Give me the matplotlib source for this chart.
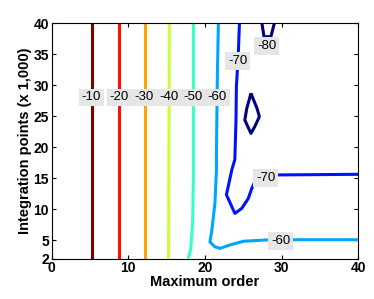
import matplotlib
matplotlib.use("Agg")
import matplotlib.pyplot as plt
from matplotlib import colors

plt.rcParams['font.family'] = ['Liberation Sans', 'DejaVu Sans']

levels = [-10, -20, -30, -40, -50, -60, -70, -80]

# contour paths, one list of segments per level
c10 = [([5.25, 5.25], [2, 40])]
c20 = [([8.82, 8.82], [2, 40])]
c30 = [([12.12, 12.12], [2, 40])]
c40 = [([15.35, 15.3, 15.25], [40, 20, 2])]
c50 = [([18.5, 18.5, 18.4, 18.15, 17.8], [40, 16, 8, 3.5, 2])]
c60 = [([21.75, 21.6, 21.5, 21.5, 21.3, 20.9, 20.65, 21.3, 21.96, 23.25, 25.0, 28.5, 40],
        [40, 30, 19, 16.3, 10.9, 6.6, 4.7, 3.9, 3.66, 4.2, 4.8, 5.05, 5.05])]
c70 = [([24.5, 24.35, 24.1, 24.05, 23.9, 23.5, 22.8, 23.9, 24.8, 25.65, 26.1, 26.8, 29.5, 40],
        [40, 35, 29.7, 24.4, 18, 16.3, 12.3, 9.3, 10.1, 11.7, 13.3, 15.2, 15.5, 15.6])]
c80 = [([27.4, 27.7, 28.6, 29.1], [40.2, 37.8, 37.8, 40.2]),
       ([26.0, 25.45, 25.2, 26.0, 26.5, 27.1, 26.8, 26.0],
        [28.65, 26.2, 24.35, 22.2, 23.3, 24.9, 26.2, 28.65])]
paths = [c10, c20, c30, c40, c50, c60, c70, c80]

label_x = [5.2, 8.8, 12.1, 15.3, 18.5, 21.6, 24.3, 28.05, 27.95, 29.9]
label_y = [28, 28, 28, 28, 28, 28, 33.9, 36.3, 15.0, 4.85]
label_txt = ['-10', '-20', '-30', '-40', '-50', '-60', '-70', '-80', '-70', '-60']

x_ticks = [0, 10, 20, 30, 40]
y_ticks = [2, 5, 10, 15, 20, 25, 30, 35, 40]

# matlab style jet
jet = colors.LinearSegmentedColormap('mjet', {
    'red':   [(0, 0, 0), (0.375, 0, 0), (0.625, 1, 1), (0.875, 1, 1), (1, 0.5, 0.5)],
    'green': [(0, 0, 0), (0.125, 0, 0), (0.375, 1, 1), (0.625, 1, 1), (0.875, 0, 0), (1, 0, 0)],
    'blue':  [(0, 0.5, 0.5), (0.125, 1, 1), (0.375, 1, 1), (0.625, 0, 0), (1, 0, 0)],
})

fig = plt.figure(figsize=(3.74, 2.99), dpi=100)
ax = fig.add_axes([0.138, 0.135, 0.82, 0.788])

norm = colors.Normalize(vmin=-80, vmax=-10)
for lev, segs in zip(levels, paths):
    for xs, ys in segs:
        ax.plot(xs, ys, color=jet(norm(lev)), lw=2.2, solid_capstyle='butt', zorder=2)

for x, y, t in zip(label_x, label_y, label_txt):
    ax.text(x, y, t, ha='center', va='center', fontsize=9.5, zorder=3,
            bbox=dict(boxstyle='square,pad=0.22', fc='#e6e6e6', ec='none'))

ax.set_xlim(0, 40)
ax.set_ylim(2, 40)
ax.set_xticks(x_ticks)
ax.set_yticks(y_ticks)
ax.tick_params(direction='in', top=True, right=True, length=3, width=0.8,
               labelsize=10, pad=2)
for lab in ax.get_xticklabels() + ax.get_yticklabels():
    lab.set_fontweight('bold')
for s in ax.spines.values():
    s.set_linewidth(0.8)
ax.set_xlabel('Maximum order', fontsize=10.5, fontweight='bold', labelpad=0)
ax.set_ylabel('Integration points (x 1,000)', fontsize=10.5, fontweight='bold', labelpad=1)

fig.savefig('out.png', dpi=100)
